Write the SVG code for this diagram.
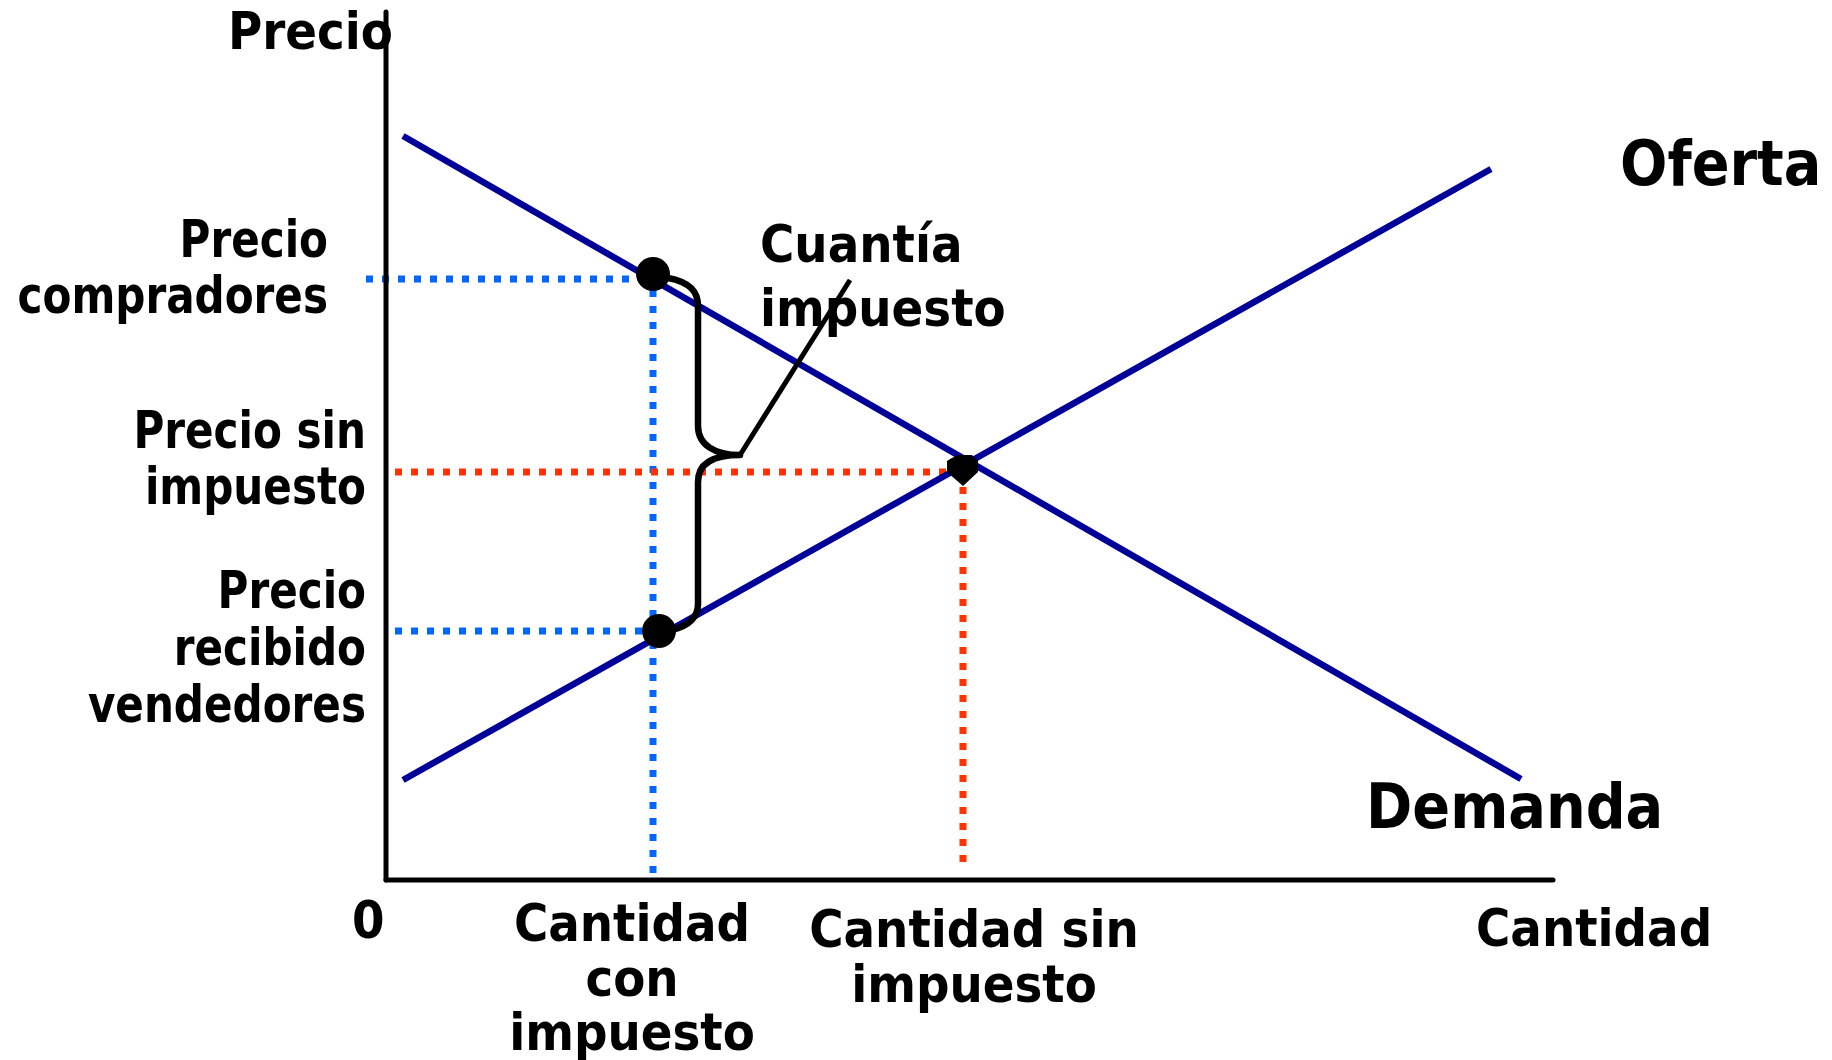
<svg xmlns="http://www.w3.org/2000/svg" width="1832" height="1060" viewBox="0 0 1832 1060">
<style>
text{font-family:"DejaVu Sans Condensed","DejaVu Sans",sans-serif;font-stretch:condensed;font-weight:bold;fill:#000;font-size:52px}
.big{font-size:62px}
.end{text-anchor:end}
.mid{text-anchor:middle}
.axis{stroke:#000;stroke-width:5;fill:none;stroke-linecap:round}
.curve{stroke:#000099;stroke-width:6.5;fill:none}
.dotb{stroke:#0066FF;stroke-width:7;stroke-dasharray:7 9;fill:none}
.dotr{stroke:#FF3300;stroke-width:7;stroke-dasharray:7 9;fill:none}
.brace{stroke:#000;stroke-width:6.5;fill:none;stroke-linejoin:round}
</style>
<rect width="1832" height="1060" fill="#fff"/>
<g id="connectors">
  <line class="dotb" x1="366" y1="279" x2="645" y2="279"/>
  <line class="dotb" x1="653" y1="290" x2="653" y2="880"/>
  <line class="dotb" x1="395" y1="631" x2="645" y2="631"/>
  <line class="dotr" x1="395" y1="472" x2="950" y2="472"/>
  <line class="dotr" x1="963" y1="487" x2="963" y2="863"/>
  <line class="axis" x1="386" y1="12" x2="386" y2="880"/>
  <line class="axis" x1="386" y1="880" x2="1553" y2="880"/>
  <line id="demanda-line" class="curve" x1="403" y1="136" x2="1521" y2="779"/>
  <line id="oferta-line" class="curve" x1="403" y1="780" x2="1491" y2="169"/>
  <path class="brace" d="M 668 278 C 690 282, 698 292, 698 306 L 698 426 C 698 445, 715 455, 740 455 C 715 455, 698 462, 698 482 L 698 604 C 698 618, 688 626, 672 630"/>
  <line stroke="#000" stroke-width="5" x1="740" y1="455" x2="850" y2="280"/>
</g>
<g id="points">
  <circle id="p-compradores" cx="653" cy="274" r="17" fill="#000"/>
  <circle id="p-vendedores" cx="659" cy="631" r="17" fill="#000"/>
  <polygon id="p-equilibrio" points="950,459 958,455 972,455 978,461 978,472 963,486 947,472 947,461" fill="#000"/>
</g>
<g id="label-precio"><text x="228" y="49">Precio</text></g>
<g id="label-compradores">
  <text class="end" transform="translate(328 257) scale(0.9 1)">Precio</text>
  <text class="end" transform="translate(328 313) scale(0.9 1)">compradores</text>
</g>
<g id="label-sin-impuesto">
  <text class="end" transform="translate(366 448) scale(0.9 1)">Precio sin</text>
  <text class="end" transform="translate(366 504) scale(0.9 1)">impuesto</text>
</g>
<g id="label-vendedores">
  <text class="end" transform="translate(366 608) scale(0.9 1)">Precio</text>
  <text class="end" transform="translate(366 665) scale(0.9 1)">recibido</text>
  <text class="end" transform="translate(366 722) scale(0.9 1)">vendedores</text>
</g>
<g id="label-cuantia"><text x="760" y="262">Cuantía</text><text x="760" y="326">impuesto</text></g>
<g id="label-oferta"><text class="big" x="1620" y="185">Oferta</text></g>
<g id="label-demanda"><text class="big" x="1366" y="828">Demanda</text></g>
<g id="label-cero"><text x="352" y="938">0</text></g>
<g id="label-cant-con"><text class="mid" x="632" y="941">Cantidad</text><text class="mid" x="632" y="996">con</text><text class="mid" x="632" y="1050">impuesto</text></g>
<g id="label-cant-sin"><text class="mid" x="974" y="947">Cantidad sin</text><text class="mid" x="974" y="1002">impuesto</text></g>
<g id="label-cantidad"><text x="1476" y="946">Cantidad</text></g>
</svg>
